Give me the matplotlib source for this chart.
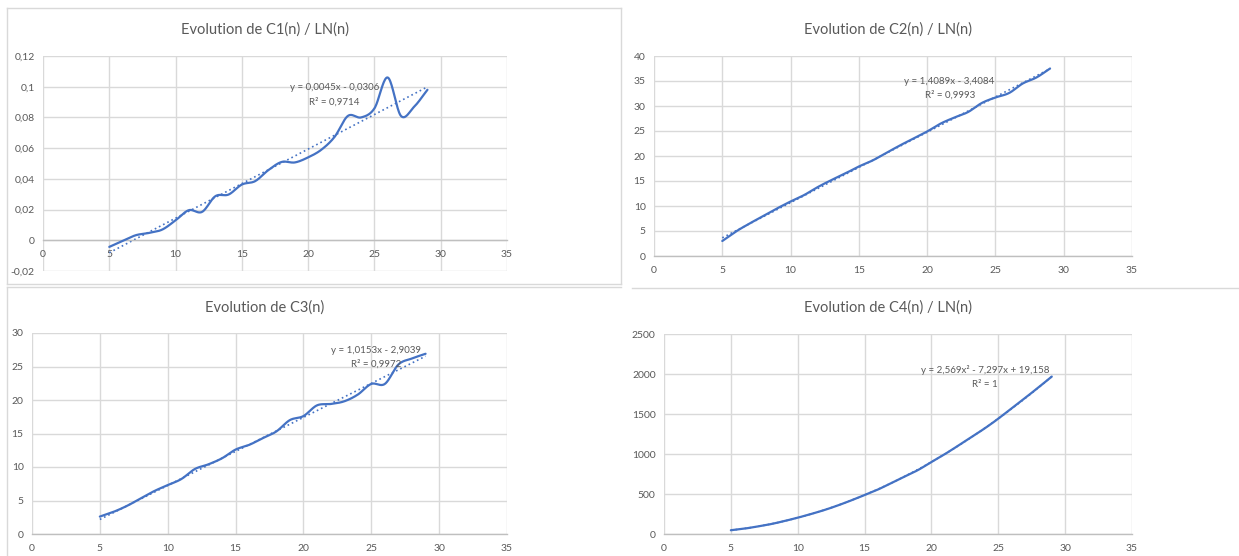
import numpy as np
import matplotlib
matplotlib.use("Agg")
import matplotlib.pyplot as plt
from matplotlib.ticker import FuncFormatter, MultipleLocator
from matplotlib.patches import Rectangle
from matplotlib.lines import Line2D

plt.rcParams['font.family'] = ['Lato', 'DejaVu Sans']

n = list(range(5, 30))

c1 = [-0.0043, -0.0004, 0.0033, 0.0048, 0.0070, 0.0130, 0.0196, 0.0185, 0.0287, 0.0298,
      0.0363, 0.0385, 0.0457, 0.0510, 0.0507, 0.0540, 0.0590, 0.0674, 0.0810, 0.0800,
      0.0859, 0.1060, 0.0810, 0.0870, 0.0980]
c2 = [3.0, 4.9, 6.5, 8.0, 9.5, 10.9, 12.2, 13.8, 15.2, 16.5,
      17.9, 19.1, 20.6, 22.1, 23.5, 24.9, 26.5, 27.7, 28.8, 30.6,
      31.7, 32.6, 34.5, 35.7, 37.5]
c3 = [2.6, 3.3, 4.2, 5.3, 6.4, 7.3, 8.2, 9.7, 10.4, 11.3,
      12.6, 13.3, 14.3, 15.3, 17.0, 17.6, 19.2, 19.4, 19.8, 20.8,
      22.4, 22.4, 25.3, 26.2, 26.9]
c4 = [47, 67, 94, 124, 162, 204, 250, 300, 357, 420,
      487, 556, 637, 719, 800, 900, 998, 1104, 1213, 1322,
      1442, 1573, 1700, 1832, 1968]

# trendline coefficients (highest degree first), as printed on the chart
fit1 = [0.0045, -0.0306]
fit2 = [1.4089, -3.4084]
fit3 = [1.0153, -2.9039]
fit4 = [2.569, -7.297, 19.158]

titles = ["Evolution de C1(n) / LN(n)", "Evolution de C2(n) / LN(n)",
          "Evolution de C3(n)", "Evolution de C4(n) / LN(n)"]
eq_texts = [("y = 0,0045x - 0,0306", "R² = 0,9714"),
            ("y = 1,4089x - 3,4084", "R² = 0,9993"),
            ("y = 1,0153x - 2,9039", "R² = 0,9972"),
            ("y = 2,569x² - 7,297x + 19,158", "R² = 1")]

BLUE = "#4472C4"
GRID = "#D9D9D9"
TXT = "#595959"

W, H = 1239, 556
fig = plt.figure(figsize=(W / 100, H / 100), dpi=100)


def catmull(xs, ys, k=20):
    xs = np.asarray(xs, float); ys = np.asarray(ys, float)
    P = np.column_stack([xs, ys])
    P = np.vstack([P[0] * 2 - P[1], P, P[-1] * 2 - P[-2]])
    out = []
    t = np.linspace(0, 1, k, endpoint=False)[:, None]
    for i in range(1, len(P) - 2):
        p0, p1, p2, p3 = P[i - 1], P[i], P[i + 1], P[i + 2]
        seg = 0.5 * ((2 * p1) + (-p0 + p2) * t + (2 * p0 - 5 * p1 + 4 * p2 - p3) * t ** 2
                     + (-p0 + 3 * p1 - 3 * p2 + p3) * t ** 3)
        out.append(seg)
    out.append(P[-2][None, :])
    out = np.vstack(out)
    return out[:, 0], out[:, 1]


def fmt(v, pos):
    return f"{round(v, 6):g}".replace('.', ',')


def add_line(x0, y0, x1, y1):
    fig.lines.append(Line2D([x0 / W, x1 / W], [1 - y0 / H, 1 - y1 / H],
                            transform=fig.transFigure, color=GRID, linewidth=1.0))


# panel frames
add_line(7, 8, 621, 8); add_line(7, 8, 7, 284); add_line(621, 8, 621, 284); add_line(7, 284, 621, 284)
add_line(7, 287, 621, 287); add_line(7, 287, 7, 556)
add_line(632, 288, 1239, 288)

# (left, top, right, bottom) in pixels
boxes = [(43, 56, 507, 271), (654, 56, 1132, 256), (32, 333, 507, 534), (664, 334, 1132, 534)]
ylims = [(-0.02, 0.12, 0.02), (0, 40, 5), (0, 30, 5), (0, 2500, 500)]
datas = [c1, c2, c3, c4]
fits = [fit1, fit2, fit3, fit4]
title_y = [30, 30, 308, 308]
title_x = [265, 888, 265, 888]
eq_pos = [(22.0, 0.0997, 0.0900), (21.65, 34.9, 32.1), (25.37, 27.4, 25.3), (24.03, 2046, 1871)]

for i in range(4):
    l, t, r, b = boxes[i]
    ax = fig.add_axes([l / W, 1 - b / H, (r - l) / W, (b - t) / H])
    y0, y1, st = ylims[i]
    ax.set_xlim(0, 35)
    ax.set_ylim(y0, y1)
    ax.xaxis.set_major_locator(MultipleLocator(5))
    ax.yaxis.set_major_locator(MultipleLocator(st))
    ax.yaxis.set_major_formatter(FuncFormatter(fmt))
    ax.xaxis.set_major_formatter(FuncFormatter(fmt))
    ax.grid(True, color=GRID, linewidth=1.0)
    ax.set_axisbelow(True)
    for s in ['left', 'right', 'top']:
        ax.spines[s].set_visible(False)
    ax.spines['bottom'].set_color("#BFBFBF")
    ax.spines['bottom'].set_linewidth(1.0)
    if i == 0:
        ax.spines['bottom'].set_position(('data', 0))
    ax.tick_params(length=0, labelsize=7.5, labelcolor=TXT, pad=7)
    ax.tick_params(axis='y', pad=6)
    xs, ys = catmull(n, datas[i])
    ax.plot(xs, ys, color=BLUE, linewidth=1.6, solid_capstyle='round', zorder=3)
    xf = np.linspace(n[0], n[-1], 100)
    ax.plot(xf, np.polyval(fits[i], xf), color=BLUE, linewidth=1.2,
            linestyle=(0, (1, 1.8)), zorder=2)
    ex, ey1, ey2 = eq_pos[i]
    ax.text(ex, ey1, eq_texts[i][0], ha='center', va='center', fontsize=7, color=TXT, zorder=4)
    ax.text(ex, ey2, eq_texts[i][1], ha='center', va='center', fontsize=7, color=TXT, zorder=4)
    ax.patch.set_alpha(0)
    fig.text(title_x[i] / W, 1 - title_y[i] / H, titles[i], ha='center', va='center',
             fontsize=10.5, color=TXT)

fig.savefig("out.png", dpi=100)
